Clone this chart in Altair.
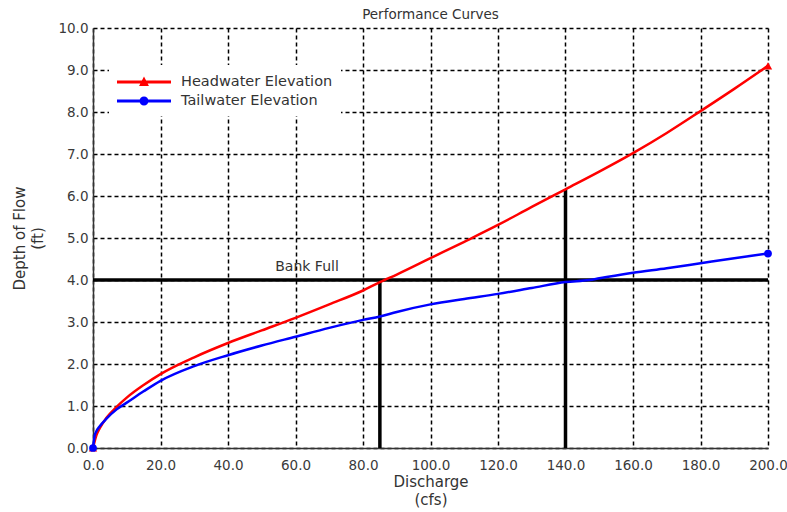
import altair as alt
import pandas as pd

# ---- data ----
series_names = ["Headwater Elevation", "Tailwater Elevation"]
series_colors = ["#ff0000", "#0000ff"]

discharge_hw = [0, 1, 2, 4, 7, 10, 15, 20, 30, 40, 50, 60, 70, 80, 85, 90,
                100, 110, 120, 130, 140, 150, 160, 170, 180, 190, 200]
headwater = [0, 0.3, 0.47, 0.72, 0.98, 1.2, 1.5, 1.76, 2.16, 2.5, 2.8, 3.1,
             3.42, 3.75, 3.95, 4.13, 4.52, 4.91, 5.31, 5.74, 6.16, 6.58, 7.02,
             7.5, 8.02, 8.55, 9.1]

discharge_tw = [0, 0.5, 1, 2, 4, 7, 10, 15, 20, 30, 40, 50, 60, 70, 80, 85, 90,
                100, 110, 120, 130, 140, 147, 150, 160, 170, 180, 190, 200]
tailwater = [0, 0.3, 0.4, 0.52, 0.7, 0.92, 1.08, 1.35, 1.6, 1.95, 2.21, 2.44,
             2.65, 2.86, 3.05, 3.13, 3.24, 3.42, 3.55, 3.67, 3.81, 3.95, 4.0,
             4.04, 4.17, 4.28, 4.40, 4.52, 4.63]

# reference lines (bank full + verticals)
ref_x = [0, 85, 140]
ref_x2 = [200, 85, 140]
ref_y = [4.0, 0, 0]
ref_y2 = [4.0, 4.0, 6.16]

label_text = ["Bank Full"]
label_x = [54]
label_y = [4.0]

x_ticks = [0, 20, 40, 60, 80, 100, 120, 140, 160, 180, 200]
y_ticks = [0, 1, 2, 3, 4, 5, 6, 7, 8, 9, 10]

# ---- tables ----
df = pd.concat([
    pd.DataFrame({"Discharge": discharge_hw, "Depth": headwater, "Series": series_names[0]}),
    pd.DataFrame({"Discharge": discharge_tw, "Depth": tailwater, "Series": series_names[1]}),
], ignore_index=True)
ends_hw = pd.DataFrame({"Discharge": [discharge_hw[0], discharge_hw[-1]],
                        "Depth": [headwater[0], headwater[-1]]})
ends_tw = pd.DataFrame({"Discharge": [discharge_tw[0], discharge_tw[-1]],
                        "Depth": [tailwater[0], tailwater[-1]]})
legend_df = pd.DataFrame({"Discharge": [discharge_hw[-1], discharge_tw[-1]],
                          "Depth": [headwater[-1], tailwater[-1]],
                          "Series": series_names})
ref_df = pd.DataFrame({"x": ref_x, "x2": ref_x2, "y": ref_y, "y2": ref_y2})
lab_df = pd.DataFrame({"text": label_text, "x": label_x, "y": label_y})

FONT = "DejaVu Sans"
TXT = "#333333"

x_scale = alt.Scale(domain=[0, 200], nice=False)
y_scale = alt.Scale(domain=[0, 10], nice=False)
x_axis = alt.Axis(values=x_ticks, format=".1f", title=["Discharge", "(cfs)"],
                  titlePadding=3, labelPadding=10, labelFlush=False)
y_axis = alt.Axis(values=y_ticks, format=".1f", title=["Depth of Flow", "(ft)"],
                  titlePadding=12, labelPadding=5, labelFlush=False)

X = alt.X("Discharge:Q", scale=x_scale, axis=x_axis)
Y = alt.Y("Depth:Q", scale=y_scale, axis=y_axis)

color_scale = alt.Scale(domain=series_names, range=series_colors)

# legend symbol paths (line + marker)
tri_path = "M-3,-0.17H3V0.17H-3Z M-0.55,0.45L0,-0.6L0.55,0.45Z"
circ_path = "M-3,-0.17H3V0.17H-3Z M-0.5,0A0.5,0.5 0 1,1 0.5,0A0.5,0.5 0 1,1 -0.5,0Z"

legend = alt.Legend(orient="none", legendX=16, legendY=37, title=None,
                    fillColor="white", padding=8, labelFont=FONT, labelFontSize=14.5,
                    labelColor=TXT, symbolSize=324, symbolStrokeWidth=0,
                    symbolOpacity=1, symbolOffset=18, labelOffset=28, rowPadding=3)

lines = alt.Chart(df).mark_line(strokeWidth=2.5, interpolate="monotone").encode(
    x=X, y=Y, color=alt.Color("Series:N", scale=color_scale, legend=legend)
)

legend_layer = alt.Chart(legend_df).mark_point(filled=True, opacity=0).encode(
    x=X, y=Y,
    color=alt.Color("Series:N", scale=color_scale, legend=legend),
    shape=alt.Shape("Series:N", scale=alt.Scale(domain=series_names,
                                                range=[tri_path, circ_path]),
                    legend=legend),
)

hw_marks = alt.Chart(ends_hw).mark_point(filled=True, opacity=1, size=70,
                                         color=series_colors[0], shape="triangle-up").encode(x=X, y=Y)
tw_marks = alt.Chart(ends_tw).mark_point(filled=True, opacity=1, size=60,
                                         color=series_colors[1], shape="circle").encode(x=X, y=Y)

rules = alt.Chart(ref_df).mark_rule(color="black", strokeWidth=3.5).encode(
    x=alt.X("x:Q", scale=x_scale), x2="x2:Q",
    y=alt.Y("y:Q", scale=y_scale), y2="y2:Q"
)

label = alt.Chart(lab_df).mark_text(align="left", baseline="middle", dy=-13,
                                    font=FONT, fontSize=14, color=TXT).encode(
    x=alt.X("x:Q", scale=x_scale), y=alt.Y("y:Q", scale=y_scale), text="text:N"
)

chart = alt.layer(rules, lines, hw_marks, tw_marks, legend_layer, label).properties(
    width=675, height=420,
    title=alt.TitleParams("Performance Curves", font=FONT, fontSize=13.5,
                          fontWeight="normal", color=TXT, offset=0),
    autosize=alt.AutoSizeParams(type="none"),
    padding={"left": 93, "top": 28, "right": 19, "bottom": 64},
).configure_view(stroke=None).configure_axis(
    labelFont=FONT, labelFontSize=13.5, labelColor="#3a3a3a",
    titleFont=FONT, titleFontSize=15, titleColor=TXT, titleFontWeight="normal",
    domainColor="#333333", domainWidth=1.5, ticks=False,
    grid=True, gridColor="black", gridDash=[4, 3], gridWidth=1.5, gridOpacity=1,
).configure_axisY(titleLineHeight=18).configure_axisX(titleLineHeight=18)

chart.save("out.html", embed_options={"renderer": "svg", "actions": False})
